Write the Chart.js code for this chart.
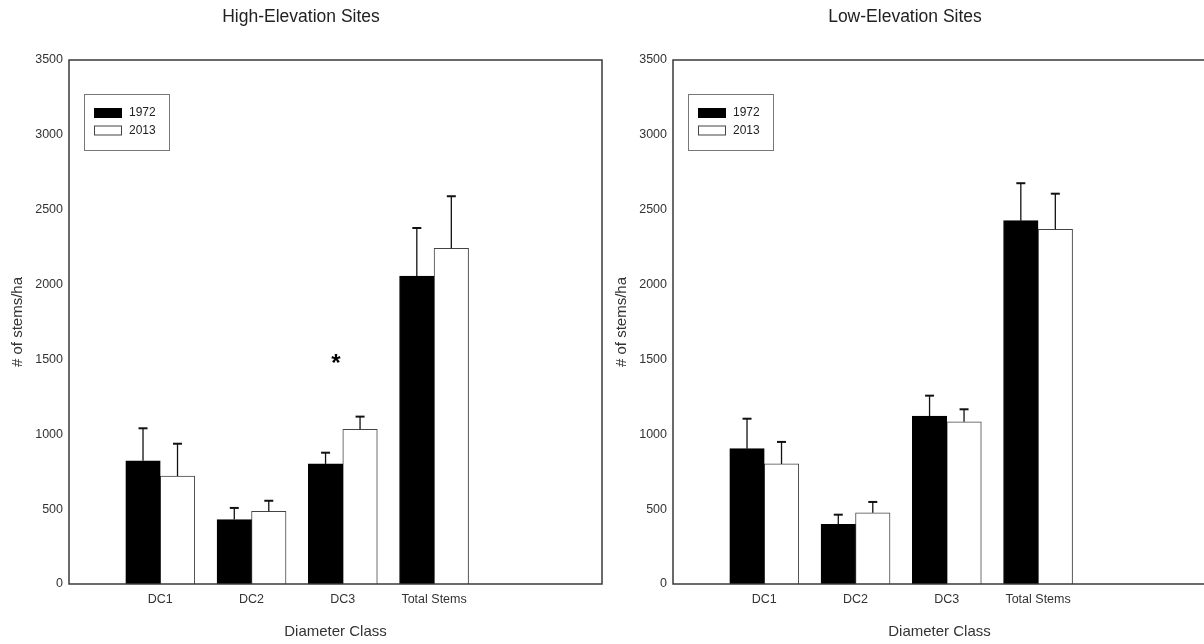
<!DOCTYPE html>
<html>
<head>
<meta charset="utf-8">
<script src="https://cdn.jsdelivr.net/npm/chart.js@4"></script>
<style>
  html, body { margin: 0; padding: 0; background: #fff; overflow: hidden; width: 1204px; height: 644px; }
  .panel { position: absolute; top: 0; width: 604px; height: 644px; }
</style>
</head>
<body>
<div class="panel" style="left:0"><canvas id="highChart" width="604" height="644"></canvas></div>
<div class="panel" style="left:604px"><canvas id="lowChart" width="604" height="644"></canvas></div>
<script>
// values (stems per hectare, mean + upper error)
const categories = ['DC1', 'DC2', 'DC3', 'Total Stems'];
const categoryPos = [1, 2, 3, 4];
const years = ['1972', '2013'];
const yTicks = [0, 500, 1000, 1500, 2000, 2500, 3000, 3500];

const high1972 = [823, 430, 802, 2057];
const high1972Err = [217, 78, 75, 321];
const high2013 = [721, 486, 1033, 2242];
const high2013Err = [216, 70, 85, 348];
const highSig = [false, false, true, false];

const low1972 = [904, 399, 1122, 2427];
const low1972Err = [200, 64, 136, 250];
const low2013 = [802, 476, 1084, 2369];
const low2013Err = [147, 72, 83, 238];
const lowSig = [false, false, false, false];

const FONT = '"Liberation Sans", Arial, sans-serif';

// box around the plot area
const frame = {
  id: 'frame',
  afterDatasetsDraw(chart) {
    const a = chart.chartArea;
    const ctx = chart.ctx;
    ctx.save();
    ctx.strokeStyle = '#3a3a3a';
    ctx.lineWidth = 1.5;
    ctx.strokeRect(a.left, a.top, a.right - a.left, a.bottom - a.top);
    ctx.restore();
  }
};

// upward error bars with caps + significance marks
const errorBars = {
  id: 'errorBars',
  afterDatasetsDraw(chart, args, opts) {
    const ctx = chart.ctx;
    const y = chart.scales.y;
    ctx.save();
    ctx.strokeStyle = '#111';
    chart.data.datasets.forEach((ds, di) => {
      const meta = chart.getDatasetMeta(di);
      meta.data.forEach((bar, i) => {
        const v = ds.data[i].y;
        const top = y.getPixelForValue(v + ds.err[i]);
        const base = y.getPixelForValue(v);
        ctx.lineWidth = 1.3;
        ctx.beginPath();
        ctx.moveTo(bar.x, base);
        ctx.lineTo(bar.x, top);
        ctx.stroke();
        ctx.lineWidth = 2;
        ctx.beginPath();
        ctx.moveTo(bar.x - 4.5, top);
        ctx.lineTo(bar.x + 4.5, top);
        ctx.stroke();
      });
    });
    (opts.sig || []).forEach((s, i) => {
      if (!s) return;
      const x = chart.scales.x.getPixelForValue(categoryPos[i]) - 7;
      ctx.fillStyle = '#000';
      ctx.font = 'bold 24px ' + FONT;
      ctx.textAlign = 'center';
      ctx.textBaseline = 'alphabetic';
      ctx.fillText('*', x, y.getPixelForValue(1500) + 12);
    });
    ctx.restore();
  }
};

// boxed legend in the upper left of the plot
const boxLegend = {
  id: 'boxLegend',
  afterDraw(chart) {
    const a = chart.chartArea;
    const ctx = chart.ctx;
    const bx = a.left + 15, by = a.top + 34;
    ctx.save();
    ctx.strokeStyle = '#777';
    ctx.lineWidth = 1;
    ctx.strokeRect(bx + 0.5, by + 0.5, 85, 56);
    ctx.font = '12px ' + FONT;
    ctx.textBaseline = 'middle';
    ctx.textAlign = 'left';
    chart.data.datasets.forEach((ds, i) => {
      const sy = by + 14 + i * 17.5;
      ctx.fillStyle = ds.backgroundColor;
      ctx.fillRect(bx + 10, sy, 28, 10);
      ctx.strokeStyle = ds.borderColor;
      ctx.strokeRect(bx + 10.5, sy + 0.5, 27, 9);
      ctx.fillStyle = '#222';
      ctx.fillText(ds.label, bx + 45, sy + 5);
    });
    ctx.restore();
  }
};

function makeChart(id, title, v1, e1, v2, e2, sig) {
  new Chart(document.getElementById(id), {
    type: 'bar',
    data: {
      datasets: [
        { label: years[0], data: categoryPos.map((x, i) => ({ x: x, y: v1[i] })), err: e1,
          backgroundColor: '#000', borderColor: '#000', borderWidth: 1 },
        { label: years[1], data: categoryPos.map((x, i) => ({ x: x, y: v2[i] })), err: e2,
          backgroundColor: '#fff', borderColor: '#444', borderWidth: 1 }
      ]
    },
    options: {
      responsive: false,
      animation: false,
      devicePixelRatio: 1,
      barThickness: 34.5,
      layout: { padding: { left: 0, right: 2, top: 0, bottom: 0 } },
      plugins: {
        legend: { display: false },
        tooltip: { enabled: false },
        title: {
          display: true, text: title, color: '#222',
          font: { family: FONT, size: 17.5, weight: 'normal', lineHeight: 1.2 },
          padding: { top: 7, bottom: 32 }
        },
        errorBars: { sig: sig }
      },
      scales: {
        x: {
          type: 'linear', min: 0, max: 5.84, offset: false,
          grid: { display: false, drawTicks: false },
          border: { display: false },
          afterBuildTicks: s => { s.ticks = categoryPos.map(v => ({ value: v })); },
          afterFit: s => { s.height = 60; },
          ticks: {
            color: '#333', padding: 8,
            font: { family: FONT, size: 12.5 },
            callback: v => categories[categoryPos.indexOf(v)] || ''
          },
          title: {
            display: true, text: 'Diameter Class', color: '#333',
            font: { family: FONT, size: 15, lineHeight: 1.2 },
            padding: { top: 0, bottom: 3 }
          }
        },
        y: {
          min: 0, max: 3500,
          grid: { display: false, drawTicks: false },
          border: { display: false },
          afterBuildTicks: s => { s.ticks = yTicks.map(v => ({ value: v })); },
          afterFit: s => { s.width = 69; },
          ticks: {
            color: '#333', padding: 6, font: { family: FONT, size: 12.5 },
            callback: v => String(v)
          },
          title: {
            display: true, text: '# of stems/ha', color: '#333',
            font: { family: FONT, size: 15, lineHeight: 1.2 },
            padding: { top: 9, bottom: 0 }
          }
        }
      }
    },
    plugins: [frame, errorBars, boxLegend]
  });
}

makeChart('highChart', 'High-Elevation Sites', high1972, high1972Err, high2013, high2013Err, highSig);
makeChart('lowChart', 'Low-Elevation Sites', low1972, low1972Err, low2013, low2013Err, lowSig);
</script>
</body>
</html>
